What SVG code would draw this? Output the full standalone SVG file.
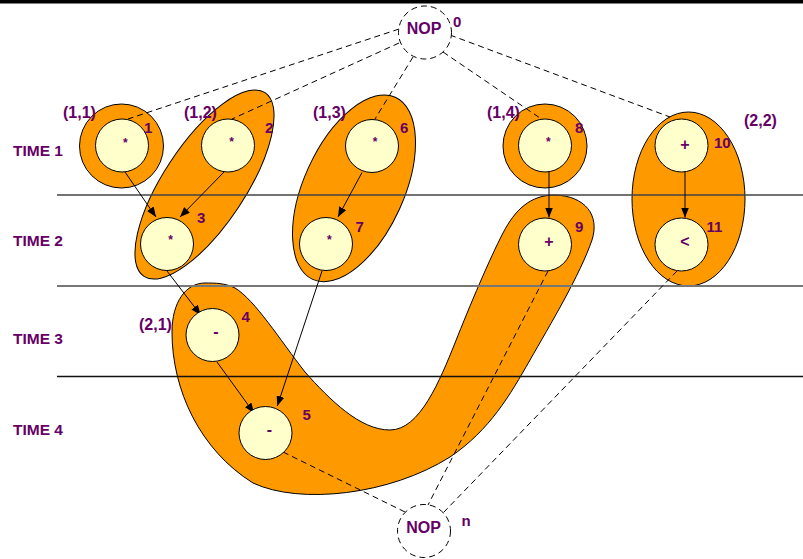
<svg xmlns="http://www.w3.org/2000/svg" width="803" height="559" viewBox="0 0 803 559">
<style>
.blob{fill:#FF9900;stroke:#000;stroke-width:1}
.node{fill:#FFFFCC;stroke:#000;stroke-width:1}
.nop{fill:#fff;stroke:#000;stroke-width:1;stroke-dasharray:6 4}
.t{font-family:"Liberation Sans",Arial,sans-serif;font-weight:bold;fill:#660066}
.lbl{font-size:15px}
.grp{font-size:16px}
.time{font-size:15.5px}
.op{font-size:16px;text-anchor:middle}
.star{font-size:12px;text-anchor:middle}
.arr{stroke:#000;stroke-width:1;fill:none;marker-end:url(#ah)}
.dash{stroke:#000;stroke-width:1;fill:none;stroke-dasharray:6 4}
</style>
<defs>
<marker id="ah" markerUnits="userSpaceOnUse" markerWidth="10" markerHeight="8" refX="10" refY="4" orient="auto">
<path d="M0,0 L10,4 L0,8 z" fill="#000"/>
</marker>
</defs>
<rect x="0" y="0" width="803" height="559" fill="#fff"/>
<rect x="0" y="0" width="803" height="3.5" fill="#000"/>

<g id="partitions">
<circle class="blob" cx="121.5" cy="146" r="42"/>
<ellipse class="blob" cx="204.5" cy="184.5" rx="110" ry="41" transform="rotate(-56.6 204.5 184.5)"/>
<ellipse class="blob" cx="354" cy="188.3" rx="100" ry="50" transform="rotate(-65.6 354 188.3)"/>
<circle class="blob" cx="545" cy="146" r="42"/>
<ellipse class="blob" cx="688.5" cy="199" rx="56.5" ry="87"/>
<path class="blob" d="M205,283 C186,283 172,302 172,332 C172,390 200,450 253,483 C300,505 390,495 450,457 C490,430 510,395 530,360 C550,325 580,275 592,240 C600,215 585,196 555,195 C530,195 515,210 503,233 C490,258 470,305 455,343 C440,380 420,430 390,430 C360,430 330,400 305,372 C280,340 255,300 235,288 C225,283 215,283 205,283 Z"/>
</g>

<g id="timelines">
<line x1="57" y1="195" x2="803" y2="195" stroke="#444" stroke-width="1.3"/>
<line x1="57" y1="286" x2="803" y2="286" stroke="#777" stroke-width="2"/>
<line x1="57" y1="376.5" x2="803" y2="376.5" stroke="#111" stroke-width="1.3"/>
<text class="t time" x="13" y="156">TIME 1</text>
<text class="t time" x="13" y="246">TIME 2</text>
<text class="t time" x="13" y="344">TIME 3</text>
<text class="t time" x="13" y="435">TIME 4</text>
</g>

<g id="group-labels">
<text class="t grp" x="63" y="118">(1,1)</text>
<text class="t grp" x="184" y="118">(1,2)</text>
<text class="t grp" x="313" y="118">(1,3)</text>
<text class="t grp" x="487" y="118">(1,4)</text>
<text class="t grp" x="744" y="126">(2,2)</text>
<text class="t grp" x="139" y="330">(2,1)</text>
</g>

<g id="connectors">
<line class="arr" x1="125" y1="172" x2="156" y2="217"/>
<line class="arr" x1="224" y1="172" x2="180" y2="217"/>
<line class="arr" x1="362" y1="172.5" x2="338" y2="217"/>
<line class="arr" x1="549" y1="172" x2="549" y2="217.5"/>
<line class="arr" x1="685" y1="172" x2="685" y2="217.5"/>
<line class="arr" x1="167" y1="271" x2="200.7" y2="315"/>
<line class="arr" x1="217" y1="362" x2="254" y2="413"/>
<line class="arr" x1="322" y1="271" x2="277.3" y2="406"/>
<line class="dash" x1="399" y1="29" x2="128" y2="119"/>
<line class="dash" x1="399" y1="43" x2="232" y2="119"/>
<line class="dash" x1="413" y1="57" x2="375" y2="119"/>
<line class="dash" x1="443" y1="52" x2="540" y2="118"/>
<line class="dash" x1="450" y1="35" x2="670" y2="117"/>
<line class="dash" x1="283" y1="452" x2="405" y2="512"/>
<line class="dash" x1="548" y1="271" x2="428" y2="505"/>
<line class="dash" x1="677" y1="271" x2="443" y2="513"/>
</g>

<g id="node0"><circle class="nop" cx="425" cy="32.5" r="26.5"/><text class="t grp" x="424" y="34" text-anchor="middle">NOP</text><text class="t lbl" x="453" y="27">0</text></g>
<g id="node1"><circle class="node" cx="122" cy="145.5" r="26.5"/><text class="t star" x="125.3" y="146.5">*</text><text class="t lbl" x="144" y="133">1</text></g>
<g id="node2"><circle class="node" cx="228" cy="145.5" r="26.5"/><text class="t star" x="231.7" y="146">*</text><text class="t lbl" x="265" y="133">2</text></g>
<g id="node3"><circle class="node" cx="167" cy="244" r="26.5"/><text class="t star" x="170.7" y="243.5">*</text><text class="t lbl" x="197" y="223">3</text></g>
<g id="node4"><circle class="node" cx="212.5" cy="335" r="26.5"/><text class="t op" x="216" y="336.5">-</text><text class="t lbl" x="241.5" y="322">4</text></g>
<g id="node5"><circle class="node" cx="265.5" cy="433" r="26.5"/><text class="t op" x="269.3" y="435">-</text><text class="t lbl" x="302.5" y="420">5</text></g>
<g id="node6"><circle class="node" cx="372" cy="146" r="26.5"/><text class="t star" x="375" y="146">*</text><text class="t lbl" x="400" y="133">6</text></g>
<g id="node7"><circle class="node" cx="326" cy="244" r="26.5"/><text class="t star" x="329.3" y="243.5">*</text><text class="t lbl" x="355.5" y="231.5">7</text></g>
<g id="node8"><circle class="node" cx="545" cy="145.5" r="26.5"/><text class="t star" x="548.3" y="146">*</text><text class="t lbl" x="575" y="133">8</text></g>
<g id="node9"><circle class="node" cx="545" cy="244.5" r="26.5"/><text class="t op" x="549" y="247.3">+</text><text class="t lbl" x="575" y="231.5">9</text></g>
<g id="node10"><circle class="node" cx="681.5" cy="145.5" r="26.5"/><text class="t op" x="685" y="149.6">+</text><text class="t lbl" x="714" y="148">10</text></g>
<g id="node11"><circle class="node" cx="681.5" cy="244.5" r="26.5"/><text class="t op" x="685" y="247.3">&lt;</text><text class="t lbl" x="706.5" y="231.5">11</text></g>
<g id="nodeN"><circle class="nop" cx="424" cy="531" r="26.5"/><text class="t grp" x="423.5" y="533" text-anchor="middle">NOP</text><text class="t lbl" x="461.5" y="526">n</text></g>
</svg>
